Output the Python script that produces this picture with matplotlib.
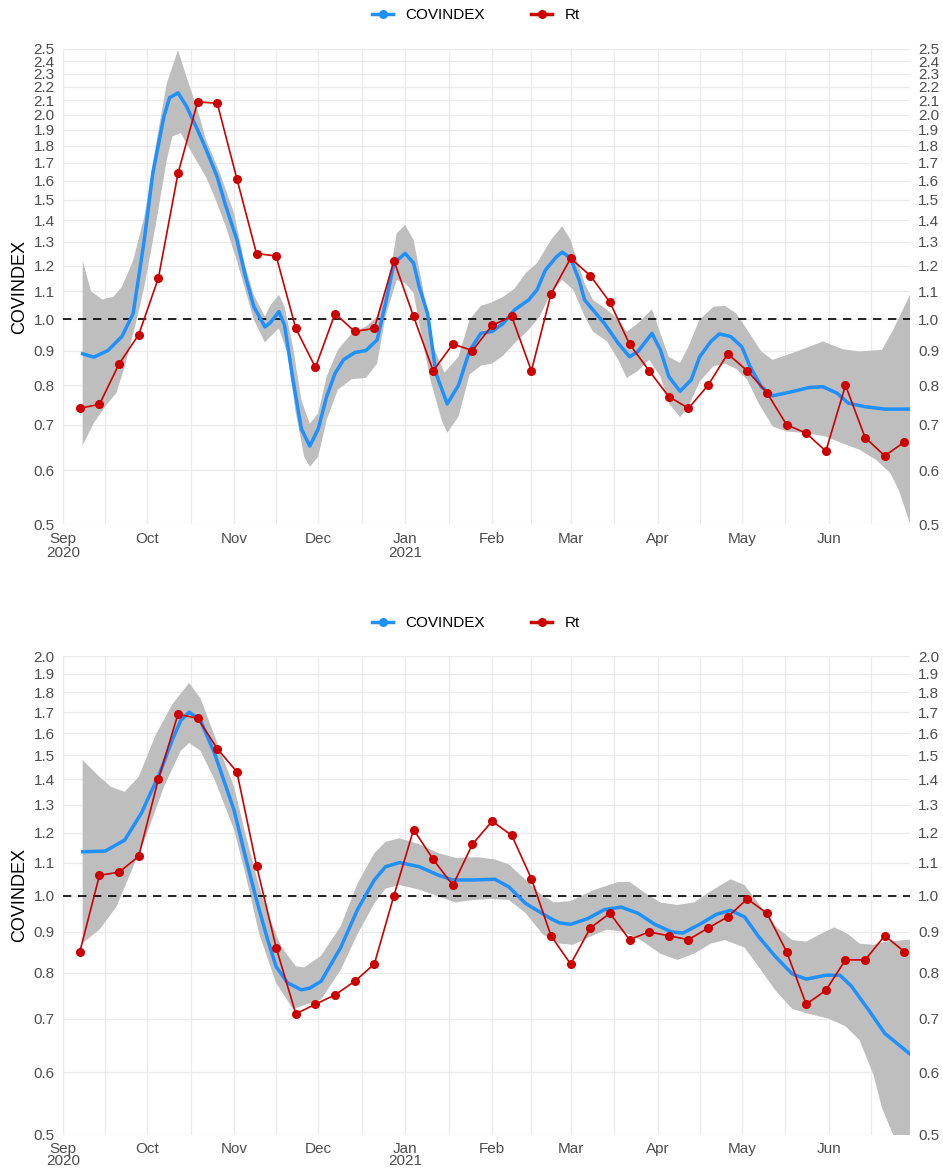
import matplotlib
matplotlib.use("Agg")
import matplotlib.pyplot as plt
import matplotlib.dates as mdates
from matplotlib.lines import Line2D
import numpy as np
import pandas as pd

plt.rcParams["font.family"] = ["Liberation Sans", "DejaVu Sans"]

BLUE = "#1E90FF"
RED = "#CD0000"
RIBBON = "#BEBEBE"
GRID = "#EBEBEB"

# weekly Rt estimates (Mondays, 2020-09-07 .. 2021-06-28)
rt_dates = pd.date_range("2020-09-07", periods=43, freq="7D")

# ---- top panel ----
top_rt = [0.74, 0.75, 0.86, 0.95, 1.15, 1.64, 2.09, 2.08, 1.61, 1.25, 1.24,
          0.97, 0.85, 1.02, 0.96, 0.97, 1.22, 1.01, 0.84, 0.92, 0.90, 0.98,
          1.01, 0.84, 1.09, 1.23, 1.16, 1.06, 0.92, 0.84, 0.77, 0.74, 0.80,
          0.89, 0.84, 0.78, 0.70, 0.68, 0.64, 0.80, 0.67, 0.63, 0.66]

top_mid_dates = [
    "2020-09-08", "2020-09-12", "2020-09-17", "2020-09-22", "2020-09-26", "2020-09-30",
    "2020-10-03", "2020-10-07", "2020-10-09", "2020-10-12", "2020-10-15", "2020-10-19",
    "2020-10-22", "2020-10-26", "2020-10-29", "2020-11-02", "2020-11-05", "2020-11-08",
    "2020-11-12", "2020-11-14", "2020-11-17", "2020-11-19", "2020-11-22", "2020-11-25",
    "2020-11-28", "2020-12-01", "2020-12-04", "2020-12-07", "2020-12-10", "2020-12-14",
    "2020-12-18", "2020-12-22", "2020-12-25", "2020-12-28", "2021-01-01", "2021-01-04",
    "2021-01-06", "2021-01-09", "2021-01-12", "2021-01-16", "2021-01-20", "2021-01-24",
    "2021-01-28", "2021-02-01", "2021-02-05", "2021-02-09", "2021-02-14", "2021-02-17",
    "2021-02-20", "2021-02-24", "2021-02-26", "2021-03-01", "2021-03-04", "2021-03-06",
    "2021-03-10", "2021-03-13", "2021-03-18", "2021-03-22", "2021-03-25", "2021-03-30",
    "2021-04-02", "2021-04-05", "2021-04-09", "2021-04-13", "2021-04-16", "2021-04-20",
    "2021-04-23", "2021-04-27", "2021-05-01", "2021-05-04", "2021-05-08", "2021-05-12",
    "2021-05-19", "2021-05-25", "2021-05-30", "2021-06-04", "2021-06-08", "2021-06-14",
    "2021-06-21", "2021-06-30",
]
top_mid = [
    0.89, 0.88, 0.90, 0.944, 1.02, 1.31,
    1.64, 1.99, 2.12, 2.155, 2.06, 1.90,
    1.78, 1.62, 1.47, 1.31, 1.16, 1.045,
    0.975, 0.99, 1.027, 0.98, 0.815, 0.69,
    0.651, 0.69, 0.77, 0.833, 0.872, 0.894,
    0.90, 0.933, 1.056, 1.21, 1.251, 1.21,
    1.117, 1.02, 0.833, 0.751, 0.80, 0.90,
    0.954, 0.96, 0.987, 1.033, 1.068, 1.105,
    1.182, 1.237, 1.256, 1.23, 1.143, 1.068,
    1.021, 0.987, 0.922, 0.881, 0.897, 0.954,
    0.902, 0.824, 0.784, 0.815, 0.881, 0.928,
    0.952, 0.944, 0.912, 0.852, 0.796, 0.772,
    0.783, 0.794, 0.796, 0.779, 0.753, 0.744,
    0.738, 0.738,
]

top_hi_dates = [
    "2020-09-08", "2020-09-11", "2020-09-15", "2020-09-19", "2020-09-22", "2020-09-26",
    "2020-09-30", "2020-10-04", "2020-10-08", "2020-10-12", "2020-10-15", "2020-10-19",
    "2020-10-22", "2020-10-27", "2020-11-01", "2020-11-05", "2020-11-08", "2020-11-12",
    "2020-11-14", "2020-11-17", "2020-11-19", "2020-11-22", "2020-11-25", "2020-11-28",
    "2020-12-01", "2020-12-04", "2020-12-08", "2020-12-13", "2020-12-18", "2020-12-22",
    "2020-12-25", "2020-12-27", "2020-12-29", "2021-01-01", "2021-01-04", "2021-01-07",
    "2021-01-11", "2021-01-15", "2021-01-20", "2021-01-24", "2021-01-28", "2021-02-01",
    "2021-02-05", "2021-02-09", "2021-02-13", "2021-02-17", "2021-02-22", "2021-02-26",
    "2021-03-01", "2021-03-04", "2021-03-06", "2021-03-09", "2021-03-14", "2021-03-18",
    "2021-03-21", "2021-03-25", "2021-03-30", "2021-04-02", "2021-04-05", "2021-04-09",
    "2021-04-12", "2021-04-16", "2021-04-21", "2021-04-25", "2021-04-29", "2021-05-03",
    "2021-05-08", "2021-05-12", "2021-05-19", "2021-05-30", "2021-06-06", "2021-06-12",
    "2021-06-20", "2021-06-24", "2021-06-30",
]
top_hi = [
    1.22, 1.10, 1.07, 1.08, 1.117, 1.22,
    1.417, 1.796, 2.226, 2.49, 2.277, 2.035,
    1.837, 1.641, 1.433, 1.195, 1.087, 1.01,
    1.05, 1.087, 1.044, 0.912, 0.761, 0.702,
    0.728, 0.824, 0.902, 0.954, 0.976, 1.01,
    1.105, 1.195, 1.339, 1.377, 1.309, 1.13,
    0.912, 0.835, 0.881, 1.00, 1.047, 1.06,
    1.08, 1.11, 1.17, 1.21, 1.309, 1.372,
    1.309, 1.195, 1.13, 1.068, 1.033, 1.00,
    0.959, 0.987, 1.035, 0.954, 0.881, 0.863,
    0.912, 1.00, 1.044, 1.047, 1.021, 0.965,
    0.897, 0.872, 0.892, 0.928, 0.904, 0.897,
    0.902, 0.965, 1.087,
]

top_lo_dates = [
    "2020-09-08", "2020-09-12", "2020-09-16", "2020-09-20", "2020-09-23", "2020-09-27",
    "2020-09-30", "2020-10-04", "2020-10-08", "2020-10-10", "2020-10-13", "2020-10-15",
    "2020-10-19", "2020-10-22", "2020-10-25", "2020-10-29", "2020-11-02", "2020-11-05",
    "2020-11-08", "2020-11-12", "2020-11-14", "2020-11-17", "2020-11-20", "2020-11-23",
    "2020-11-26", "2020-11-28", "2020-12-01", "2020-12-04", "2020-12-08", "2020-12-13",
    "2020-12-18", "2020-12-22", "2020-12-25", "2020-12-29", "2021-01-01", "2021-01-04",
    "2021-01-06", "2021-01-10", "2021-01-14", "2021-01-16", "2021-01-20", "2021-01-24",
    "2021-01-28", "2021-02-01", "2021-02-05", "2021-02-09", "2021-02-14", "2021-02-18",
    "2021-02-22", "2021-02-26", "2021-03-02", "2021-03-06", "2021-03-09", "2021-03-14",
    "2021-03-18", "2021-03-21", "2021-03-25", "2021-03-29", "2021-04-02", "2021-04-05",
    "2021-04-09", "2021-04-12", "2021-04-16", "2021-04-21", "2021-04-25", "2021-04-29",
    "2021-05-03", "2021-05-07", "2021-05-12", "2021-05-17", "2021-05-25", "2021-05-31",
    "2021-06-06", "2021-06-12", "2021-06-18", "2021-06-23", "2021-06-26", "2021-06-30",
]
top_lo = [
    0.653, 0.704, 0.744, 0.779, 0.852, 0.987,
    1.117, 1.372, 1.717, 1.858, 1.88, 1.817,
    1.70, 1.62, 1.516, 1.372, 1.22, 1.105,
    1.00, 0.925, 0.944, 0.97, 0.892, 0.728,
    0.628, 0.607, 0.628, 0.711, 0.788, 0.817,
    0.82, 0.861, 1.01, 1.143, 1.13, 1.094,
    0.987, 0.815, 0.711, 0.681, 0.719, 0.83,
    0.855, 0.861, 0.885, 0.922, 0.965, 1.01,
    1.094, 1.143, 1.105, 1.01, 0.959, 0.928,
    0.872, 0.82, 0.84, 0.872, 0.824, 0.753,
    0.718, 0.744, 0.81, 0.854, 0.861, 0.846,
    0.815, 0.753, 0.696, 0.684, 0.68, 0.672,
    0.657, 0.643, 0.621, 0.594, 0.561, 0.501,
]

# ---- bottom panel ----
bot_rt = [0.85, 1.06, 1.07, 1.12, 1.40, 1.69, 1.67, 1.53, 1.43, 1.09, 0.86,
          0.71, 0.73, 0.75, 0.78, 0.82, 1.00, 1.21, 1.11, 1.03, 1.16, 1.24,
          1.19, 1.05, 0.89, 0.82, 0.91, 0.95, 0.88, 0.90, 0.89, 0.88, 0.91,
          0.94, 0.99, 0.95, 0.85, 0.73, 0.76, 0.83, 0.83, 0.89, 0.85]

bot_mid_dates = [
    "2020-09-08", "2020-09-16", "2020-09-23", "2020-09-29", "2020-10-02", "2020-10-05",
    "2020-10-10", "2020-10-13", "2020-10-16", "2020-10-20", "2020-10-25", "2020-11-01",
    "2020-11-05", "2020-11-09", "2020-11-13", "2020-11-16", "2020-11-20", "2020-11-25",
    "2020-11-28", "2020-12-02", "2020-12-09", "2020-12-15", "2020-12-21", "2020-12-25",
    "2020-12-30", "2021-01-06", "2021-01-13", "2021-01-18", "2021-01-25", "2021-02-02",
    "2021-02-07", "2021-02-13", "2021-02-17", "2021-02-22", "2021-02-25", "2021-03-01",
    "2021-03-07", "2021-03-13", "2021-03-19", "2021-03-25", "2021-03-31", "2021-04-06",
    "2021-04-10", "2021-04-16", "2021-04-22", "2021-04-27", "2021-05-02", "2021-05-07",
    "2021-05-13", "2021-05-19", "2021-05-24", "2021-05-31", "2021-06-05", "2021-06-09",
    "2021-06-15", "2021-06-21", "2021-06-30",
]
bot_mid = [
    1.135, 1.137, 1.174, 1.27, 1.34, 1.41,
    1.57, 1.66, 1.70, 1.66, 1.51, 1.28,
    1.12, 0.987, 0.879, 0.814, 0.777, 0.761,
    0.765, 0.78, 0.86, 0.96, 1.046, 1.087,
    1.10, 1.087, 1.06, 1.046, 1.046, 1.048,
    1.025, 0.977, 0.958, 0.935, 0.924, 0.92,
    0.935, 0.96, 0.967, 0.95, 0.92, 0.90,
    0.897, 0.92, 0.947, 0.958, 0.94, 0.888,
    0.838, 0.797, 0.785, 0.794, 0.794, 0.77,
    0.72, 0.671, 0.632,
]

bot_hi_dates = [
    "2020-09-08", "2020-09-14", "2020-09-18", "2020-09-23", "2020-09-28", "2020-10-04",
    "2020-10-10", "2020-10-16", "2020-10-20", "2020-10-25", "2020-11-01", "2020-11-05",
    "2020-11-10", "2020-11-14", "2020-11-18", "2020-11-23", "2020-11-26", "2020-12-02",
    "2020-12-09", "2020-12-15", "2020-12-21", "2020-12-25", "2020-12-30", "2021-01-06",
    "2021-01-13", "2021-01-19", "2021-01-27", "2021-02-02", "2021-02-07", "2021-02-13",
    "2021-02-18", "2021-02-23", "2021-03-01", "2021-03-09", "2021-03-18", "2021-03-22",
    "2021-03-28", "2021-04-02", "2021-04-08", "2021-04-14", "2021-04-21", "2021-04-27",
    "2021-05-02", "2021-05-07", "2021-05-13", "2021-05-19", "2021-05-24", "2021-05-29",
    "2021-06-03", "2021-06-08", "2021-06-12", "2021-06-17", "2021-06-21", "2021-06-30",
]
bot_hi = [
    1.48, 1.41, 1.37, 1.35, 1.41, 1.59,
    1.74, 1.85, 1.77, 1.59, 1.37, 1.197,
    1.025, 0.93, 0.86, 0.815, 0.812, 0.84,
    0.915, 1.035, 1.13, 1.168, 1.18, 1.16,
    1.13, 1.115, 1.117, 1.11, 1.094, 1.046,
    1.006, 0.98, 0.984, 1.015, 1.04, 1.04,
    1.005, 0.98, 0.973, 0.98, 1.018, 1.048,
    1.031, 0.977, 0.915, 0.879, 0.875, 0.894,
    0.912, 0.894, 0.87, 0.867, 0.875, 0.88,
]

bot_lo_dates = [
    "2020-09-08", "2020-09-14", "2020-09-20", "2020-09-25", "2020-10-01", "2020-10-07",
    "2020-10-13", "2020-10-16", "2020-10-20", "2020-10-25", "2020-11-01", "2020-11-05",
    "2020-11-10", "2020-11-16", "2020-11-22", "2020-11-25", "2020-12-02", "2020-12-09",
    "2020-12-15", "2020-12-21", "2020-12-25", "2020-12-30", "2021-01-06", "2021-01-13",
    "2021-01-19", "2021-01-25", "2021-02-01", "2021-02-07", "2021-02-13", "2021-02-19",
    "2021-02-25", "2021-03-02", "2021-03-08", "2021-03-14", "2021-03-20", "2021-03-26",
    "2021-04-02", "2021-04-08", "2021-04-14", "2021-04-20", "2021-04-25", "2021-05-02",
    "2021-05-07", "2021-05-13", "2021-05-19", "2021-05-25", "2021-06-01", "2021-06-07",
    "2021-06-12", "2021-06-17", "2021-06-20", "2021-06-24", "2021-06-30",
]
bot_lo = [
    0.871, 0.906, 0.967, 1.065, 1.197, 1.37,
    1.52, 1.555, 1.52, 1.40, 1.21, 1.065,
    0.894, 0.776, 0.72, 0.726, 0.74, 0.806,
    0.894, 0.977, 1.02, 1.031, 1.017, 0.997,
    0.98, 0.987, 0.99, 0.987, 0.95, 0.894,
    0.87, 0.867, 0.888, 0.906, 0.90, 0.879,
    0.845, 0.83, 0.845, 0.87, 0.879, 0.86,
    0.814, 0.76, 0.72, 0.71, 0.70, 0.685,
    0.658, 0.595, 0.541, 0.50, 0.43,
]

top_yticks = [round(0.5 + 0.1 * i, 1) for i in range(21)]
bot_yticks = [round(0.5 + 0.1 * i, 1) for i in range(16)]

month_starts = pd.date_range("2020-09-01", "2021-06-01", freq="MS")
month_labels = ["Sep\n2020", "Oct", "Nov", "Dec", "Jan\n2021", "Feb", "Mar", "Apr", "May", "Jun"]
x_start = pd.Timestamp("2020-09-01")
x_end = pd.Timestamp("2021-06-30")


def draw_panel(ax, yticks, mid_d, mid, hi_d, hi, lo_d, lo, rt, legend_y, xpad, lsp):
    mid_d = pd.to_datetime(mid_d)
    hi_d = pd.to_datetime(hi_d)
    lo_d = pd.to_datetime(lo_d)

    ax.set_yscale("log")
    ax.set_ylim(yticks[0], yticks[-1])
    ax.set_xlim(x_start, x_end)

    # grid
    for y in yticks:
        ax.axhline(y, color=GRID, lw=1.0, zorder=0)
    for d in month_starts:
        ax.axvline(d, color=GRID, lw=1.0, zorder=0)
    edges = list(month_starts) + [pd.Timestamp("2021-07-01")]
    for a, b in zip(edges[:-1], edges[1:]):
        ax.axvline(a + (b - a) / 2, color=GRID, lw=0.9, zorder=0)

    # ribbon as polygon: upper edge forward, lower edge back
    poly_x = np.concatenate([mdates.date2num(hi_d), mdates.date2num(lo_d)[::-1]])
    poly_y = np.concatenate([hi, lo[::-1]])
    ax.fill(poly_x, poly_y, color=RIBBON, lw=0, zorder=1)

    ax.axhline(1.0, color="black", lw=1.2, ls=(0, (5, 4)), zorder=2)
    ax.plot(mid_d, mid, color=BLUE, lw=2.5, solid_joinstyle="round", zorder=3)
    ax.plot(rt_dates, rt, color=RED, lw=1.2, marker="o", ms=5.5, zorder=4)

    ax.set_yticks(yticks)
    ax.set_yticklabels([f"{v:.1f}" for v in yticks])
    ax.yaxis.set_minor_locator(matplotlib.ticker.NullLocator())
    ax.set_xticks(month_starts)
    ax.set_xticklabels(month_labels, linespacing=lsp)
    ax.xaxis.set_minor_locator(matplotlib.ticker.NullLocator())
    ax.tick_params(axis="both", length=0, labelsize=11, labelcolor="#4D4D4D")
    ax.tick_params(axis="y", pad=6, labelright=True)
    ax.tick_params(axis="x", pad=xpad)
    for s in ax.spines.values():
        s.set_visible(False)

    ax.set_ylabel("COVINDEX", fontsize=13, color="black")
    ax.yaxis.set_label_coords(-0.041, 0.5)

    handles = [
        Line2D([], [], color=BLUE, lw=2.5, marker="o", ms=5.5),
        Line2D([], [], color=RED, lw=2.5, marker="o", ms=5.5),
    ]
    ax.legend(handles, ["COVINDEX", "Rt"], loc="center", bbox_to_anchor=(0.4876, legend_y),
              ncol=2, frameon=False, fontsize=11, handlelength=1.4, handletextpad=0.8,
              columnspacing=3.0, borderaxespad=0, borderpad=0)


fig = plt.figure(figsize=(9.43, 11.71), dpi=100)
ax1 = fig.add_axes([63 / 943, 1 - 524 / 1171, 847 / 943, 475 / 1171])
ax2 = fig.add_axes([63 / 943, 1 - 1135 / 1171, 847 / 943, 479 / 1171])

draw_panel(ax1, top_yticks, top_mid_dates, top_mid, top_hi_dates, np.array(top_hi),
           top_lo_dates, np.array(top_lo), top_rt, 1 + 34 / 475, 6, 0.95)
draw_panel(ax2, bot_yticks, bot_mid_dates, bot_mid, bot_hi_dates, np.array(bot_hi),
           bot_lo_dates, np.array(bot_lo), bot_rt, 1 + 33 / 479, 5, 0.85)

fig.savefig("out.png", dpi=100)
